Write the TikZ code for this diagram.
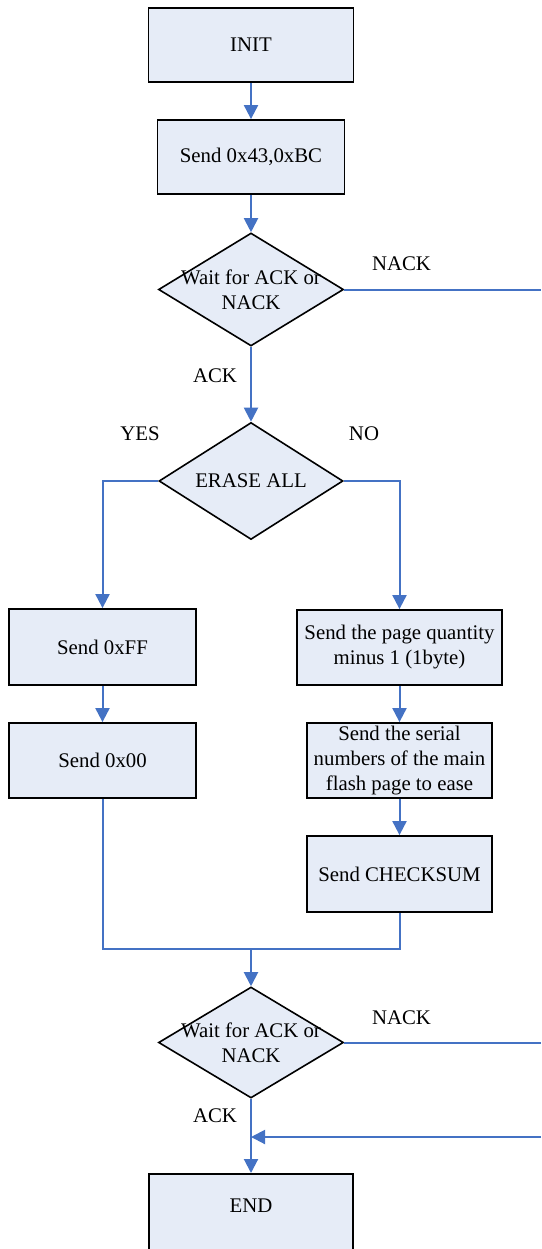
\documentclass[tikz,border=0pt]{standalone}
\usepackage{fontspec}
\setmainfont{Liberation Serif}
\usetikzlibrary{shapes.geometric,arrows.meta}
\definecolor{boxfill}{HTML}{E6ECF7}
\definecolor{flow}{HTML}{4472C4}
\begin{document}
\begin{tikzpicture}[x=1pt,y=-1pt,
  font=\fontsize{20.8}{25}\selectfont,
  stepbox/.style={draw=black,fill=boxfill,line width=1.8pt,rectangle,inner sep=0pt,align=center},
  decision/.style={draw=black,fill=boxfill,line width=1.6pt,diamond,inner sep=0pt,minimum width=185pt,minimum height=113pt},
  dtext/.style={align=center,inner sep=0pt},
  conn/.style={draw=flow,line width=2pt},
  arr/.style={conn,-{Triangle[width=14pt,length=14pt]}},
  lbl/.style={inner sep=0pt}]
\useasboundingbox (0,0) rectangle (541,1249);
\clip (0,0) rectangle (541,1249);

% process steps
\node[stepbox,minimum width=205pt,minimum height=74pt] (init) at (251,45) {INIT};
\node[stepbox,minimum width=187pt,minimum height=74pt] (send43) at (251,157) {Send 0x43,0xBC};
\node[decision] (wait1) at (251,289.5) {};
\node[dtext] (wait1t) at (wait1.center) {Wait for ACK or\\NACK};
\node[decision,minimum width=184pt,minimum height=117pt] (erase) at (251,481) {};
\node[dtext] (eraset) at (erase.center) {ERASE ALL};

\node[stepbox,minimum width=187pt,minimum height=76pt] (ff) at (102.5,647) {Send 0xFF};
\node[stepbox,minimum width=187pt,minimum height=75pt] (zero) at (102.5,760.5) {Send 0x00};

\node[stepbox,minimum width=205pt,minimum height=75pt] (pageq) at (399.5,647.5) {Send the page quantity\\minus 1 (1byte)};
\node[stepbox,minimum width=185pt,minimum height=75pt] (serial) at (399.5,760.5) {};
\node[dtext] (serialt) at (serial.center) {Send the serial\\numbers of the main\\flash page to ease};
\node[stepbox,minimum width=185pt,minimum height=76pt] (chk) at (399.5,874) {Send CHECKSUM};

\node[decision,minimum height=111pt] (wait2) at (251,1042.5) {};
\node[dtext] (wait2t) at (wait2.center) {Wait for ACK or\\NACK};
\node[stepbox,minimum width=204pt,minimum height=100pt,anchor=north] (end) at (251,1173) {};
\node[dtext] (endt) at (251,1206) {END};

% free ends of the connectors
\coordinate (nack1) at (541,289.5);
\coordinate (merge) at (251,949);
\coordinate (nack2) at (541,1042.5);
\coordinate (retry) at (541,1137);

% connectors
\draw[arr] (init) -- (send43);
\draw[arr] (send43) -- (wait1.north);
\draw[conn] (wait1.east) -- (nack1);
\draw[arr] (wait1.south) -- (erase.north);
\draw[arr] (erase.west) -| (ff.north);
\draw[arr] (erase.east) -| (pageq.north);
\draw[arr] (ff) -- (zero);
\draw[arr] (pageq) -- (serial);
\draw[arr] (serial) -- (chk);
\draw[conn] (zero.south) |- (merge) -| (chk.south);
\draw[arr] (merge) -- (wait2.north);
\draw[conn] (wait2.east) -- (nack2);
\draw[arr] (wait2.south) -- (end.north);
\draw[arr] (retry) -- (wait2.south |- retry);

% branch labels
\node[lbl] (lnack1) at (401.5,264) {NACK};
\node[lbl] (lack1) at (215,376) {ACK};
\node[lbl] (lyes) at (140,434) {YES};
\node[lbl] (lno) at (364,434) {NO};
\node[lbl] (lnack2) at (401.5,1018) {NACK};
\node[lbl] (lack2) at (215,1116) {ACK};
\end{tikzpicture}
\end{document}
